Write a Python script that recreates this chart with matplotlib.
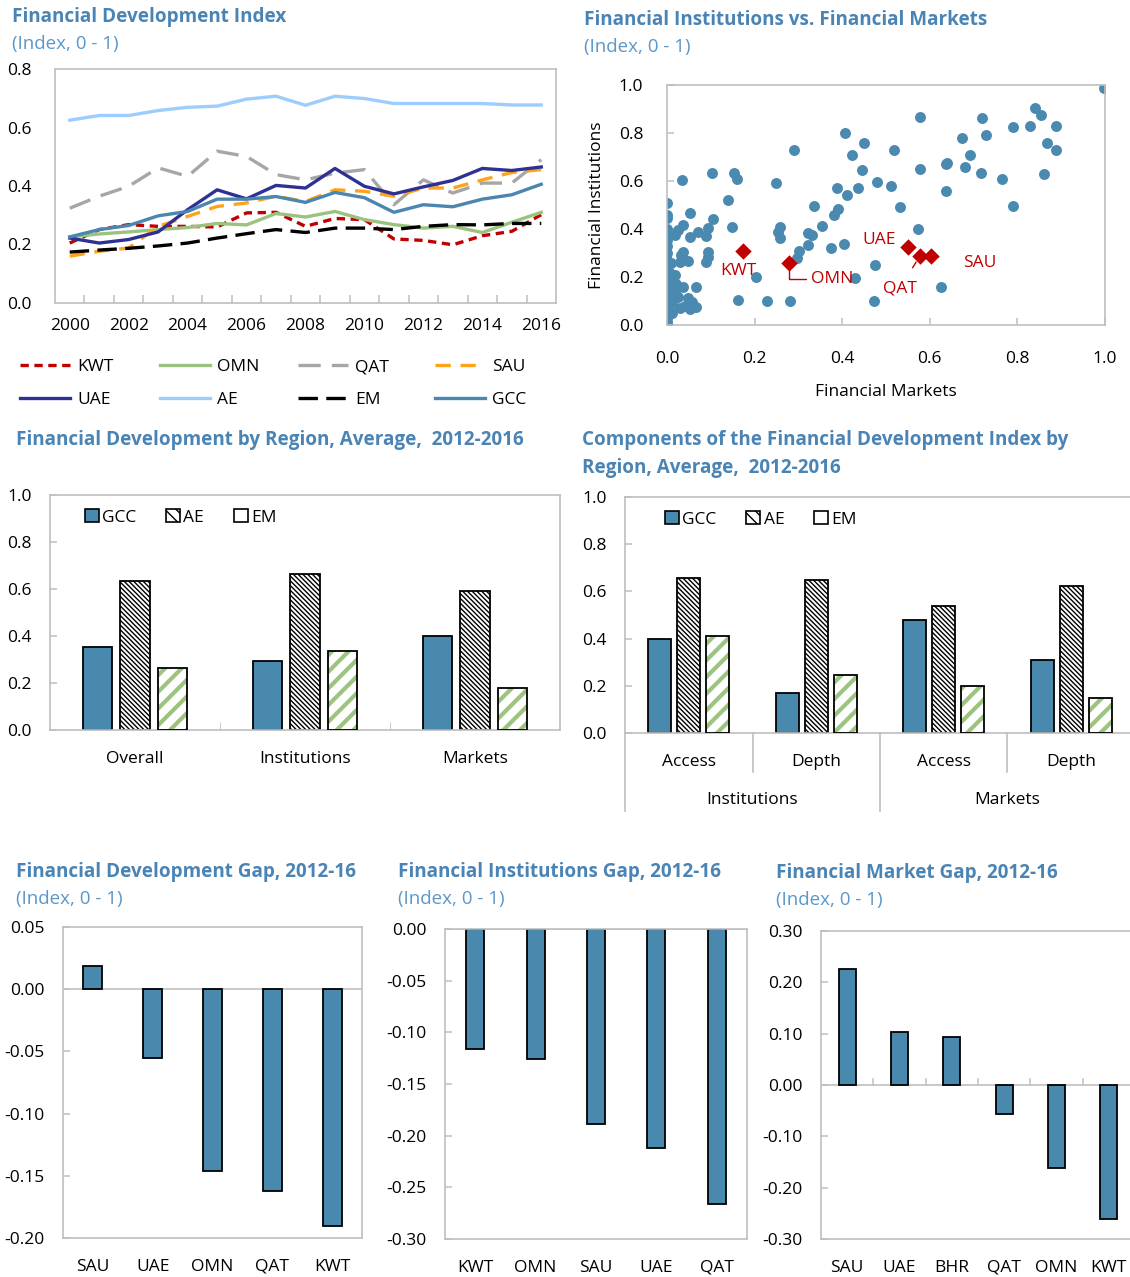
"""Financial development dashboard: GCC vs AE vs EM (six small panels)"""
import matplotlib
matplotlib.use("Agg")
import matplotlib.pyplot as plt
import matplotlib.transforms as mtransforms
from matplotlib.patches import Patch

plt.rcParams["font.family"] = ["Open Sans", "DejaVu Sans"]
plt.rcParams["font.size"] = 12.5
plt.rcParams["lines.scale_dashes"] = False

W, H = 1130, 1277
TITLE_C = "#4a84b5"
SUB_C = "#5b97c8"
FRAME_C = "#bfbfbf"
BAR_C = "#4a89ae"
GREEN = "#9cc47e"

# ---- data: Financial Development Index, 2000-2016 ----
years = list(range(2000, 2017))
kwt = [0.205, 0.251, 0.268, 0.262, 0.262, 0.260, 0.308, 0.310, 0.262, 0.289, 0.285, 0.219, 0.214, 0.199, 0.230, 0.245, 0.302]
omn = [0.226, 0.236, 0.243, 0.251, 0.258, 0.272, 0.267, 0.306, 0.294, 0.313, 0.285, 0.268, 0.256, 0.262, 0.241, 0.276, 0.310]
qat = [0.324, 0.365, 0.399, 0.462, 0.433, 0.519, 0.501, 0.439, 0.421, 0.444, 0.456, 0.336, 0.421, 0.376, 0.410, 0.410, 0.490]
sau = [0.160, 0.177, 0.188, 0.262, 0.296, 0.330, 0.342, 0.365, 0.347, 0.387, 0.382, 0.365, 0.393, 0.393, 0.421, 0.446, 0.456]
uae = [0.222, 0.205, 0.217, 0.243, 0.319, 0.387, 0.356, 0.402, 0.393, 0.460, 0.399, 0.373, 0.397, 0.419, 0.460, 0.453, 0.465]
ae = [0.625, 0.641, 0.641, 0.658, 0.669, 0.673, 0.697, 0.707, 0.676, 0.707, 0.699, 0.682, 0.682, 0.682, 0.682, 0.677, 0.677]
em = [0.174, 0.181, 0.187, 0.195, 0.205, 0.222, 0.237, 0.251, 0.241, 0.256, 0.256, 0.251, 0.262, 0.268, 0.267, 0.272, 0.272]
gcc = [0.226, 0.251, 0.265, 0.298, 0.313, 0.355, 0.355, 0.364, 0.344, 0.378, 0.360, 0.310, 0.336, 0.329, 0.355, 0.370, 0.406]

# ---- data: FI vs FM scatter (all countries) ----
fm_all = [0.000, 0.000, 0.000, 0.052, 0.139, 0.106, 0.094, 0.090, 0.071, 0.052, 0.037, 0.026, 0.000, 0.000, 0.018,
          0.148, 0.094, 0.094, 0.090, 0.037, 0.033, 0.029, 0.048, 0.000, 0.000, 0.000, 0.018, 0.000, 0.007, 0.037,
          0.067, 0.018, 0.048, 0.056, 0.067, 0.052, 0.029, 0.011, 0.000, 0.000, 0.000, 0.162, 0.204, 0.000, 0.000,
          0.035, 0.102, 0.152, 0.160, 0.000, 0.000, 0.005, 0.010, 0.000, 0.000, 0.000, 0.012, 0.020, 0.025, 0.040,
          0.008, 0.000,
          0.998, 0.840, 0.853, 0.829, 0.888, 0.791, 0.719, 0.729, 0.673, 0.867, 0.888, 0.691, 0.681, 0.716, 0.636,
          0.639, 0.860, 0.764, 0.636, 0.791, 0.577, 0.577, 0.574, 0.519, 0.511, 0.533, 0.480, 0.476, 0.473, 0.625,
          0.407, 0.450, 0.422, 0.446, 0.435, 0.411, 0.388, 0.391, 0.381, 0.336, 0.353, 0.323, 0.331, 0.322, 0.374,
          0.405, 0.430, 0.291, 0.249, 0.257, 0.254, 0.257, 0.301, 0.297, 0.229, 0.281]
fi_all = [0.507, 0.458, 0.444, 0.465, 0.521, 0.440, 0.403, 0.371, 0.389, 0.365, 0.417, 0.396, 0.389, 0.354, 0.375,
          0.410, 0.306, 0.285, 0.264, 0.306, 0.292, 0.264, 0.268, 0.271, 0.236, 0.201, 0.208, 0.174, 0.153, 0.160,
          0.157, 0.132, 0.111, 0.097, 0.076, 0.065, 0.069, 0.090, 0.049, 0.014, 0.000, 0.104, 0.199, 0.118, 0.146,
          0.603, 0.634, 0.632, 0.609, 0.300, 0.330, 0.220, 0.180, 0.100, 0.070, 0.030, 0.050, 0.170, 0.115, 0.080,
          0.260, 0.400,
          0.986, 0.904, 0.873, 0.830, 0.830, 0.823, 0.861, 0.792, 0.780, 0.760, 0.729, 0.709, 0.658, 0.634, 0.669,
          0.673, 0.629, 0.609, 0.558, 0.496, 0.867, 0.652, 0.402, 0.729, 0.578, 0.490, 0.597, 0.251, 0.100, 0.157,
          0.798, 0.760, 0.709, 0.647, 0.572, 0.540, 0.572, 0.483, 0.458, 0.496, 0.414, 0.382, 0.377, 0.332, 0.320,
          0.338, 0.194, 0.729, 0.590, 0.407, 0.388, 0.364, 0.307, 0.281, 0.100, 0.100]
gcc_names = ["KWT", "OMN", "UAE", "QAT", "SAU"]
gcc_fm = [0.173, 0.279, 0.551, 0.577, 0.603]
gcc_fi = [0.309, 0.260, 0.324, 0.287, 0.287]

# ---- data: regional averages 2012-2016 ----
region_cats = ["Overall", "Institutions", "Markets"]
region_gcc = [0.352, 0.295, 0.398]
region_ae = [0.635, 0.665, 0.590]
region_em = [0.265, 0.335, 0.180]

comp_cats = ["Access", "Depth", "Access", "Depth"]
comp_groups = ["Institutions", "Markets"]
comp_gcc = [0.400, 0.170, 0.477, 0.310]
comp_ae = [0.655, 0.650, 0.540, 0.625]
comp_em = [0.412, 0.245, 0.200, 0.150]

# ---- data: gaps 2012-16 ----
fd_gap_c = ["SAU", "UAE", "OMN", "QAT", "KWT"]
fd_gap_v = [0.019, -0.055, -0.146, -0.162, -0.190]
fi_gap_c = ["KWT", "OMN", "SAU", "UAE", "QAT"]
fi_gap_v = [-0.116, -0.126, -0.189, -0.212, -0.266]
fm_gap_c = ["SAU", "UAE", "BHR", "QAT", "OMN", "KWT"]
fm_gap_v = [0.226, 0.103, 0.094, -0.056, -0.161, -0.262]

fig = plt.figure(figsize=(W / 100, H / 100), dpi=100)


def px_axes(l, t, r, b):
    return fig.add_axes([l / W, 1 - b / H, (r - l) / W, (b - t) / H])


def title(x, y, s, sub=None, dy=27, sub_bold=False):
    fig.text(x / W, 1 - y / H, s, color=TITLE_C, fontsize=13.6, fontweight="bold", va="center", ha="left")
    if sub:
        if sub_bold:
            fig.text(x / W, 1 - (y + dy) / H, sub, color=TITLE_C, fontsize=13.6, fontweight="bold",
                     va="center", ha="left")
        else:
            fig.text(x / W, 1 - (y + dy) / H, sub, color=SUB_C, fontsize=13.5, va="center", ha="left")


def frame(ax):
    for sp in ax.spines.values():
        sp.set_color(FRAME_C)
        sp.set_linewidth(1.2)
    ax.tick_params(colors=FRAME_C, labelcolor="black", direction="in", length=5, width=1.1, pad=13)


# ================= panel 1: line chart =================
ax1 = px_axes(55, 69, 556, 303)
frame(ax1)
styles = [
    ("KWT", kwt, "#c00000", (0, (6, 4))),
    ("OMN", omn, "#9bc27f", "-"),
    ("QAT", qat, "#a6a6a6", (0, (16, 8))),
    ("SAU", sau, "#ffa31a", (0, (11, 7))),
    ("UAE", uae, "#2e3192", "-"),
    ("AE", ae, "#9dcdfc", "-"),
    ("EM", em, "#000000", (0, (14, 6))),
    ("GCC", gcc, "#4a86b0", "-"),
]
lines = {}
for name, vals, col, ls in styles:
    (ln,) = ax1.plot(years, vals, color=col, lw=2.4, linestyle=ls, label=name)
    lines[name] = ln
ax1.set_xlim(1999.5, 2016.5)
ax1.set_ylim(0, 0.8)
ax1.set_xticks(years[::2])
ax1.set_xticks([y + 0.5 for y in years[:-1]], minor=True)
ax1.set_yticks([0, 0.2, 0.4, 0.6, 0.8])
ax1.set_yticklabels([f"{v:.1f}" for v in [0, 0.2, 0.4, 0.6, 0.8]])
ax1.tick_params(axis="x", which="major", length=0, pad=11)
ax1.tick_params(axis="x", which="minor", direction="in", length=6, color=FRAME_C, width=1.1)
ax1.tick_params(axis="y", length=0, pad=17)
# legend: 4 columns of 2 rows, placed column by column
legend_cols = [("KWT", "UAE"), ("OMN", "AE"), ("QAT", "EM"), ("SAU", "GCC")]
legend_x = [20, 160, 298, 435]
for names, lx in zip(legend_cols, legend_x):
    fig.legend([lines[n] for n in names], names, loc="upper left", bbox_to_anchor=(lx / W, 1 - 359 / H),
               frameon=False, handlelength=2.9, handletextpad=0.4, labelspacing=0.95,
               fontsize=12.5, borderaxespad=0, borderpad=0)
title(12, 17, "Financial Development Index", "(Index, 0 - 1)")

# ================= panel 2: scatter =================
ax2 = px_axes(667, 85, 1105, 325)
frame(ax2)
ax2.scatter(fm_all, fi_all, s=62, color="#4a89b0", zorder=2, linewidths=0)
ax2.scatter(gcc_fm, gcc_fi, s=70, marker="D", color="#c00000", zorder=3, linewidths=0)
ax2.set_xlim(0, 1)
ax2.set_ylim(0, 1)
ticks = [0, 0.2, 0.4, 0.6, 0.8, 1.0]
ax2.set_xticks(ticks)
ax2.set_xticklabels([f"{v:.1f}" for v in ticks])
ax2.set_yticks(ticks)
ax2.set_yticklabels([f"{v:.1f}" for v in ticks])
ax2.tick_params(axis="x", pad=19)
ax2.tick_params(axis="y", pad=17)
ax2.set_xlabel("Financial Markets", labelpad=12)
ax2.set_ylabel("Financial Institutions", labelpad=10)
ann = {
    "KWT": dict(off=(-3.5, -14.5), line=None),
    "OMN": dict(off=(31, -12), line=dict(arrowstyle="-", color="#c00000", lw=1,
                                          connectionstyle="angle,angleA=0,angleB=90,rad=0",
                                          shrinkA=2, shrinkB=5)),
    "UAE": dict(off=(-21, 5), line=None),
    "QAT": dict(off=(-14, -23), line=dict(arrowstyle="-", color="#c00000", lw=1, shrinkA=8, shrinkB=5)),
    "SAU": dict(off=(35, -5), line=dict(arrowstyle="-", color="#c00000", lw=1, shrinkA=16, shrinkB=3)),
}
for n, xv, yv in zip(gcc_names, gcc_fm, gcc_fi):
    a = ann[n]
    ax2.annotate(n, (xv, yv), xytext=a["off"], textcoords="offset points", ha="center", va="center",
                 color="#c00000", fontsize=12.5, arrowprops=a["line"], zorder=4)
title(584, 20, "Financial Institutions vs. Financial Markets", "(Index, 0 - 1)")


# ================= bar helpers =================
AE_HATCH = "\\" * 7


def grouped(ax, gv, av, ev, width, step, leg_x):
    xs = list(range(len(gv)))
    ax.bar([x - step for x in xs], gv, width, color=BAR_C, edgecolor="black", lw=1.3, zorder=2)
    with plt.rc_context({"hatch.linewidth": 1.0}):
        ax.bar(xs, av, width, color="white", edgecolor="black", lw=1.3, hatch=AE_HATCH, zorder=2)
    with plt.rc_context({"hatch.linewidth": 3.0}):
        ax.bar([x + step for x in xs], ev, width, color="white", edgecolor=GREEN, lw=0, hatch="//", zorder=2)
    ax.bar([x + step for x in xs], ev, width, fill=False, edgecolor="black", lw=1.3, zorder=3)
    handles = [Patch(facecolor=BAR_C, edgecolor="black", lw=1.2),
               Patch(facecolor="white", edgecolor="black", lw=1.2, hatch="\\\\\\"),
               Patch(facecolor="white", edgecolor="black", lw=1.2)]
    ax.legend(handles, ["GCC", "AE", "EM"], loc="center left", bbox_to_anchor=(leg_x, 0.905), ncol=3,
              frameon=False, handlelength=0.8, handleheight=0.8, handletextpad=0.2, columnspacing=1.7,
              fontsize=12.5, borderaxespad=0)
    ax.set_ylim(0, 1.0)
    yt = [0, 0.2, 0.4, 0.6, 0.8, 1.0]
    ax.set_yticks(yt)
    ax.set_yticklabels([f"{v:.1f}" for v in yt])


# ================= panel 3: regional averages =================
ax3 = px_axes(50, 495, 560, 730)
frame(ax3)
grouped(ax3, region_gcc, region_ae, region_em, 0.175, 0.22, 0.055)
ax3.set_xlim(-0.5, 2.5)
ax3.set_xticks(range(len(region_cats)))
ax3.set_xticklabels(region_cats)
ax3.set_xticks([0.5, 1.5], minor=True)
ax3.tick_params(axis="x", which="major", length=0, pad=15)
ax3.tick_params(axis="x", which="minor", direction="in", length=6, color=FRAME_C)
title(16, 440, "Financial Development by Region, Average,  2012-2016")

# ================= panel 4: components =================
ax4 = px_axes(625, 497, 1135, 733)
frame(ax4)
grouped(ax4, comp_gcc, comp_ae, comp_em, 0.18, 0.228, 0.065)
ax4.set_xlim(-0.5, 3.5)
ax4.set_xticks(range(len(comp_cats)))
ax4.set_xticklabels(comp_cats)
ax4.tick_params(axis="x", length=0, pad=15)
tr = mtransforms.blended_transform_factory(ax4.transData, ax4.transAxes)
for xb in [0.5, 2.5]:
    ax4.plot([xb, xb], [0, -0.165], transform=tr, color=FRAME_C, lw=1.2, clip_on=False)
for xb in [-0.5, 1.5, 3.5]:
    ax4.plot([xb, xb], [0, -0.33], transform=tr, color=FRAME_C, lw=1.2, clip_on=False)
for i, g in enumerate(comp_groups):
    ax4.text(2 * i + 0.5, -0.285, g, transform=tr, ha="center", va="center", fontsize=12.5)
title(582, 440, "Components of the Financial Development Index by", "Region, Average,  2012-2016",
      dy=28, sub_bold=True)


# ================= panels 5-7: gaps =================
def gap(ax, cats, vals, ylim, step, fmt, width):
    frame(ax)
    xs = list(range(len(cats)))
    ax.bar(xs, vals, width, color=BAR_C, edgecolor="black", lw=1.3, zorder=2)
    ax.axhline(0, color=FRAME_C, lw=1.2, zorder=1)
    ax.set_xlim(-0.5, len(cats) - 0.5)
    ax.set_ylim(*ylim)
    n = round((ylim[1] - ylim[0]) / step)
    yt = [ylim[0] + i * step for i in range(n + 1)]
    ax.set_yticks(yt)
    ax.set_yticklabels([fmt.format(v + 0.0) for v in yt])
    ax.set_xticks(xs)
    ax.set_xticklabels(cats)
    ax.tick_params(axis="x", length=0, pad=15)


ax5 = px_axes(63, 927, 362, 1238)
gap(ax5, fd_gap_c, fd_gap_v, (-0.20, 0.05), 0.05, "{:.2f}", 0.32)
title(16, 872, "Financial Development Gap, 2012-16", "(Index, 0 - 1)")

ax6 = px_axes(445, 929, 747, 1239)
gap(ax6, fi_gap_c, fi_gap_v, (-0.30, 0.0), 0.05, "{:.2f}", 0.3)
title(398, 872, "Financial Institutions Gap, 2012-16", "(Index, 0 - 1)")

ax7 = px_axes(821, 931, 1135, 1239)
gap(ax7, fm_gap_c, fm_gap_v, (-0.30, 0.30), 0.10, "{:.2f}", 0.33)
tr7 = mtransforms.blended_transform_factory(ax7.transData, ax7.transAxes)
zero_frac = (0 - (-0.30)) / 0.60
for xb in [i + 0.5 for i in range(len(fm_gap_c) - 1)]:
    ax7.plot([xb, xb], [zero_frac, zero_frac + 0.018], transform=tr7, color=FRAME_C, lw=1.1)
title(776, 873, "Financial Market Gap, 2012-16", "(Index, 0 - 1)")

fig.savefig("out.png", dpi=100)
